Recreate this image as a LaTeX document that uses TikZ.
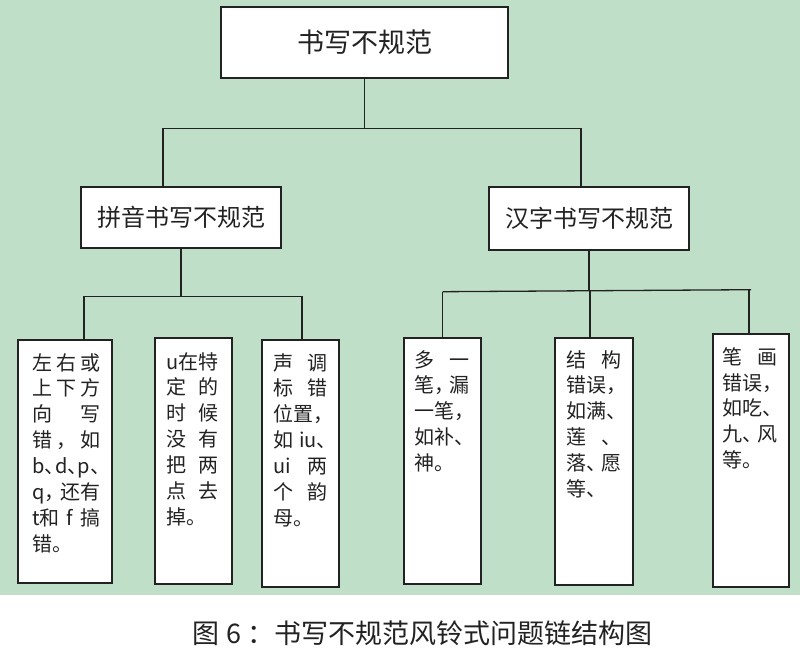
\documentclass[tikz,border=0pt]{standalone}
\usepackage{fontspec}
\setmainfont{Noto Sans CJK SC}
\definecolor{bg}{RGB}{192,223,201}
\definecolor{ink}{RGB}{34,34,34}
\newcommand\J[2]{\hbox to #1{#2}}
\begin{document}
\begin{tikzpicture}[x=1pt,y=-1pt,
  box/.style={draw=ink, line width=1.4pt, fill=white, inner sep=0pt},
  conn/.style={draw=ink, line width=1.3pt},
  leaftext/.style={anchor=north west, inner sep=0pt, align=left, text=ink,
    font=\fontsize{20}{25.9}\selectfont}]
\useasboundingbox (0,0) rectangle (800,659);
\fill[white] (0,0) rectangle (800,659);
\fill[bg] (0,0) rectangle (800,595);

% main boxes
\node[box, minimum width=287pt, minimum height=71pt, text=ink,
  font=\fontsize{27}{27}\selectfont] (top) at (364.5,42.5) {书写不规范};
\node[box, minimum width=200pt, minimum height=61pt, text=ink,
  font=\fontsize{24}{24}\selectfont] (py) at (181,217.5) {拼音书写不规范};
\node[box, minimum width=200pt, minimum height=63pt, text=ink,
  font=\fontsize{24}{24}\selectfont] (hz) at (589,218.5) {汉字书写不规范};

% leaf boxes
\node[box, minimum width=94pt, minimum height=243pt] (L1) at (65,461.5) {};
\node[box, minimum width=77pt, minimum height=246pt] (L2) at (193.5,461) {};
\node[box, minimum width=77pt, minimum height=247pt] (L3) at (300.5,463.5) {};
\node[box, minimum width=77pt, minimum height=246pt] (R1) at (442.5,461) {};
\node[box, minimum width=78pt, minimum height=247pt] (R2) at (594,461.5) {};
\node[box, minimum width=76pt, minimum height=253pt] (R3) at (751,460.5) {};

% connectors
\draw[conn] (top.south) -- ++(0,50) coordinate (tj);
\draw[conn] ([xshift=-18pt]py.north) |- ([xshift=-8pt]hz.north |- tj) -- ([xshift=-8pt]hz.north);
\draw[conn] (py.south) -- ++(0,48) coordinate (pj);
\draw[conn] ([xshift=19pt]L1.north) |- ([xshift=1.5pt]L3.north |- pj) -- ([xshift=1.5pt]L3.north);
\draw[conn] (hz.south) -- ++(0,40) coordinate (hj);
\draw[conn] ([yshift=-1pt]R1.north |- hj) -- ([yshift=1pt]R3.north |- hj);
\draw[conn] (R1.north) -- ([yshift=-1pt]R1.north |- hj);
\draw[conn] ([xshift=-4pt]R2.north) -- ([xshift=-4pt]R2.north |- hj);
\draw[conn] ([xshift=-2pt]R3.north) -- ([xshift=-2pt,yshift=1pt]R3.north |- hj);

% leaf texts
\node[leaftext] (t1) at (32,353) {%
\J{68pt}{左\hfill 右\hfill 或}\\
\J{68pt}{上\hfill 下\hfill 方}\\
\J{68pt}{向\hfill 写}\\
\J{68pt}{错\hfill ，\hfill 如}\\
\J{68pt}{b、\kern-9.5pt\hfill d、\kern-9.5pt\hfill p、\kern-9.5pt}\\
\J{68pt}{q，\kern-8.5pt\hfill 还有}\\
\J{68pt}{t和\hfill f\hfill 搞}\\
错。};
\node[leaftext] (t2) at (166,352) {%
\J{52pt}{u在\hfill 特}\\
\J{52pt}{定\hfill 的}\\
\J{52pt}{时\hfill 候}\\
\J{52pt}{没\hfill 有}\\
\J{52pt}{把\hfill 两}\\
\J{52pt}{点\hfill 去}\\
掉。};
\node[leaftext] (t3) at (273,353) {%
\J{54pt}{声\hfill 调}\\
\J{54pt}{标\hfill 错}\\
\J{54pt}{位置，\hss}\\
\J{54pt}{如\hfill iu、\kern-9.5pt}\\
\J{54pt}{ui\hfill 两}\\
\J{54pt}{个\hfill 韵}\\
母。};
\node[leaftext] (t4) at (414,350) {%
\J{55pt}{多\hfill 一}\\
\J{55pt}{笔，\kern-9.5pt\hfill 漏}\\
\J{55pt}{一笔，\hss}\\
\J{55pt}{如补、\hss}\\
神。};
\node[leaftext] (t5) at (566,350) {%
\J{55pt}{结\hfill 构}\\
\J{55pt}{错误，\hss}\\
\J{55pt}{如满、\hss}\\
\J{55pt}{莲\hfill 、}\\
\J{55pt}{落、\kern-9.5pt\hfill 愿}\\
等、};
\node[leaftext] (t6) at (722,347) {%
\J{55pt}{笔\hfill 画}\\
\J{55pt}{错误，\hss}\\
\J{55pt}{如吃、\hss}\\
\J{55pt}{九、\kern-9.5pt\hfill 风}\\
等。};

% caption
\node[text=ink, font=\fontsize{27}{27}\selectfont, inner sep=0pt] (cap) at (422.5,633) {图 6 ：书写不规范风铃式问题链结构图};
\end{tikzpicture}
\end{document}
